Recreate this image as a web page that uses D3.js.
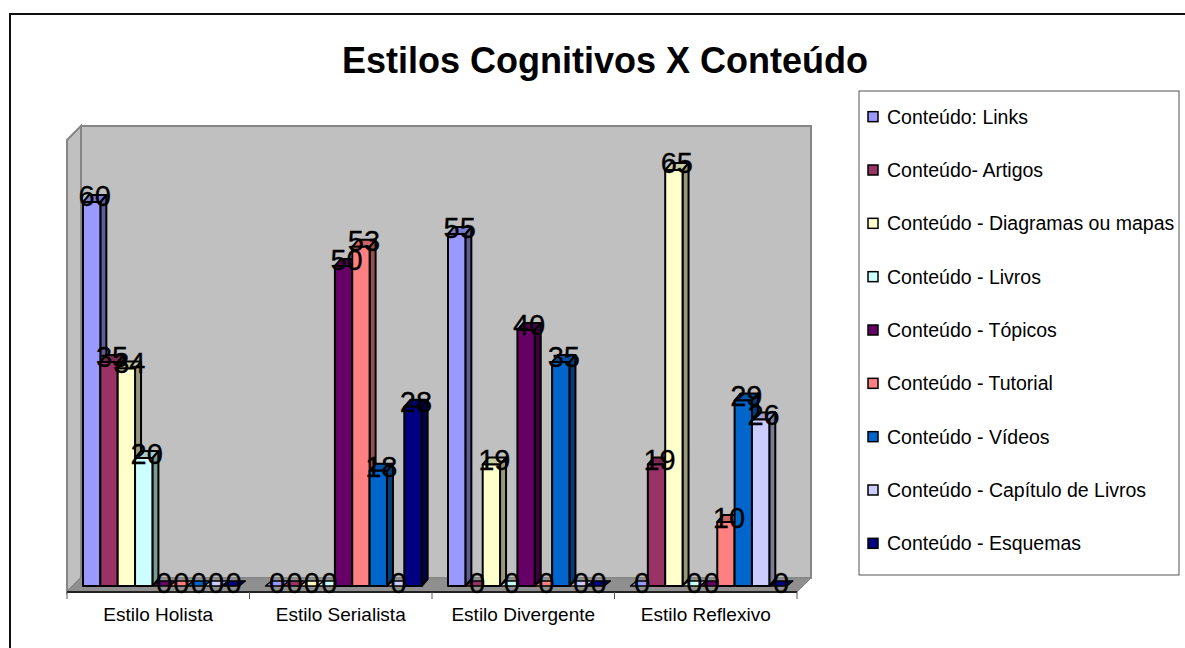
<!DOCTYPE html>
<html><head><meta charset="utf-8"><script src="https://cdn.jsdelivr.net/npm/d3@7"></script>
<style>html,body{margin:0;padding:0;background:#fff;overflow:hidden}svg{display:block}text{font-family:"Liberation Sans",Arial,sans-serif;fill:#000}</style></head><body><svg id="c" width="1185" height="648"></svg>
<script>
const categories=["Estilo Holista","Estilo Serialista","Estilo Divergente","Estilo Reflexivo"];
const seriesNames=["Conteúdo: Links","Conteúdo- Artigos","Conteúdo - Diagramas ou mapas","Conteúdo - Livros","Conteúdo - Tópicos","Conteúdo - Tutorial","Conteúdo - Vídeos","Conteúdo - Capítulo de Livros","Conteúdo - Esquemas"];
const seriesColors=["#9999ff","#993366","#ffffcc","#ccffff","#660066","#ff8080","#0066cc","#ccccff","#000080"];
const links=[60,0,55,0],artigos=[35,0,0,19],diagramas=[34,0,19,65],livros=[20,0,0,0],topicos=[0,50,40,0],tutorial=[0,53,0,10],videos=[0,18,35,29],capitulo=[0,0,0,26],esquemas=[0,28,0,0];
const seriesValues=[links,artigos,diagramas,livros,topicos,tutorial,videos,capitulo,esquemas];
const title="Estilos Cognitivos X Conteúdo";
const svg=d3.select("#c");
const L=67,R=797,B=592,dep=14,H=452,vMax=70;
svg.append("path").attr("d","M10,648V14H1185").attr("fill","none").attr("stroke","#111").attr("stroke-width",2);
svg.append("text").attr("x",605).attr("y",73).attr("text-anchor","middle").attr("font-weight","bold").attr("font-size",36).text(title);
const x0=d3.scaleBand().domain(categories).range([L,R]);
const y=d3.scaleLinear().domain([0,vMax]).range([B-dep,B-dep-H]);
const yBar=d3.scaleLinear().domain([0,vMax]).range([586,586-448]);
const wall="#c0c0c0",edge="#868686";
svg.append("path").attr("d",d3.line()([[L,B],[L,B-H],[L+dep,B-H-dep],[L+dep,B-dep]])+"Z").attr("fill",wall).attr("stroke",edge).attr("stroke-width",2);
svg.append("rect").attr("x",L+dep).attr("y",B-dep-H).attr("width",R-L).attr("height",H).attr("fill",wall).attr("stroke",edge).attr("stroke-width",2);
svg.append("path").attr("d",d3.line()([[L,B],[L+dep,B-dep],[R+dep,B-dep],[R,B]])+"Z").attr("fill","#8f8f8f").attr("stroke",edge).attr("stroke-width",1);
svg.append("line").attr("x1",L).attr("x2",R).attr("y1",B).attr("y2",B).attr("stroke","#222").attr("stroke-width",2);
const ax=d3.axisBottom(x0).tickSize(0).tickPadding(16);
const ag=svg.append("g").attr("transform",`translate(0,${B})`).call(ax);
ag.select(".domain").remove();ag.selectAll("text").attr("font-size",19).style("font-family",'"Liberation Sans",Arial,sans-serif').attr("fill","#000");
svg.selectAll("line.tick").data(d3.range(5)).join("line").attr("class","tick").attr("x1",i=>L+i*(R-L)/4).attr("x2",i=>L+i*(R-L)/4).attr("y1",B).attr("y2",B+7).attr("stroke","#555").attr("stroke-width",1);
const x1=d3.scaleBand().domain(d3.range(9)).range([16,16+9*17.35]);
const bw=x1.bandwidth(),dx=6;
const rows=[];seriesValues.forEach((vals,s)=>vals.forEach((v,c)=>rows.push({s,c,v})));
rows.sort((a,b)=>a.c-b.c||a.s-b.s);
const labels=[];
rows.forEach(r=>{
 const xl=x0(categories[r.c])+x1(r.s),xr=xl+bw,bot=yBar(0),top=yBar(r.v),dy=r.v>0?7:5;
 const col=d3.color(seriesColors[r.s]);
 const g=svg.append("g").attr("stroke","#000").attr("stroke-width",r.v>0?2:1.3).attr("stroke-linejoin","round");
 const d=(c,k)=>d3.rgb(c.r*k,c.g*k,c.b*k).formatHex();
 g.append("path").attr("d",d3.line()([[xr,bot],[xr,top],[xr+dx,top-dy],[xr+dx,bot-dy]])+"Z").attr("fill",d(col,.6));
 g.append("path").attr("d",d3.line()([[xl,top],[xr,top],[xr+dx,top-dy],[xl+dx,top-dy]])+"Z").attr("fill",r.v>0?d(col,.8):col.formatHex());
 if(r.v>0)g.append("rect").attr("x",xl).attr("y",top).attr("width",bw).attr("height",bot-top).attr("fill",col.formatHex());
 labels.push({x:xl+bw/2+dx/2,y:y(r.v)+15,v:r.v});
});
svg.selectAll("text.lab").data(labels).join("text").attr("class","lab").attr("x",d=>d.x).attr("y",d=>d.y).attr("text-anchor","middle").attr("font-size",29).style("stroke","#000").style("stroke-width",.3).text(d=>d.v);
svg.append("rect").attr("x",859).attr("y",91).attr("width",320).attr("height",484).attr("fill","#fff").attr("stroke","#555").attr("stroke-width",1);
const ly=d3.scaleBand().domain(d3.range(9)).range([91,571]);
seriesNames.forEach((n,i)=>{const cy=ly(i)+ly.bandwidth()/2-1;
 svg.append("rect").attr("x",868).attr("y",cy-5).attr("width",10).attr("height",10).attr("fill",seriesColors[i]).attr("stroke","#000").attr("stroke-width",1.5);
 svg.append("text").attr("x",887).attr("y",cy+7).attr("font-size",19.5).text(n);});
</script></body></html>
